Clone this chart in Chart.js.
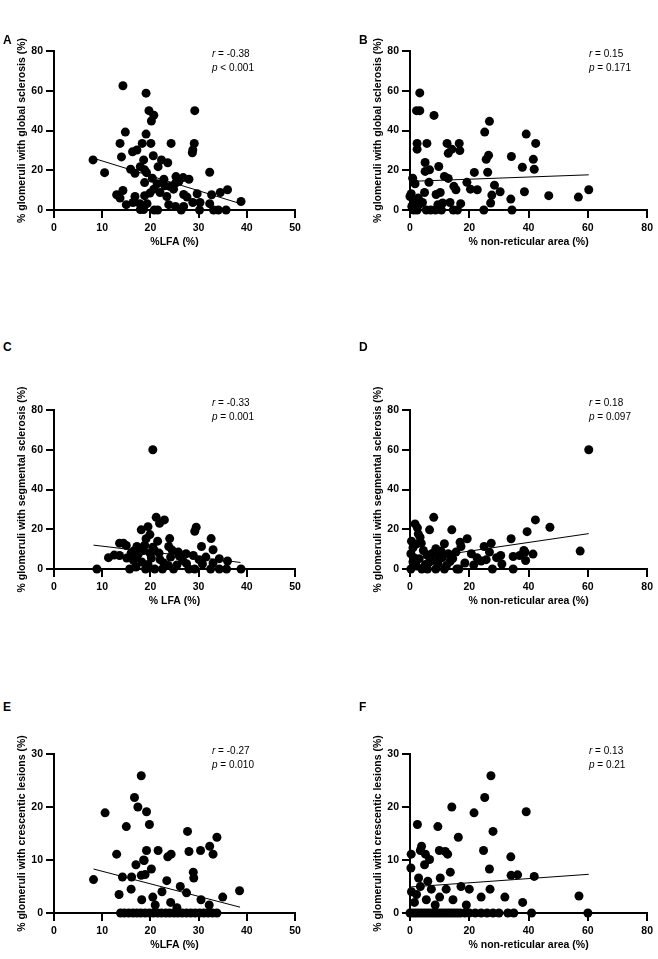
<!DOCTYPE html>
<html>
<head>
<meta charset="utf-8">
<script src="https://cdn.jsdelivr.net/npm/chart.js@4.4.1/dist/chart.umd.min.js"></script>
<style>
  body { margin: 0; background: #fff; width: 658px; height: 959px; position: relative; overflow: hidden;
         font-family: "Liberation Sans", Arial, sans-serif; color: #000; }
  canvas { position: absolute; }
  .letter { position: absolute; font-weight: bold; font-size: 12px; line-height: 14px; }
  .stat { position: absolute; font-size: 10px; line-height: 14px; white-space: nowrap; }
</style>
</head>
<body>
<script>
// tick values
const lfaTicks = [0, 10, 20, 30, 40, 50];
const nraTicks = [0, 20, 40, 60, 80];
const sclerosisTicks = [0, 20, 40, 60, 80];
const crescentTicks = [0, 10, 20, 30];

// A: %LFA vs % global sclerosis  [x, y]
const lfaGlobal = [[8.1,25.2],[10.5,18.8],[14.3,62.5],[19.1,58.8],[19.7,50],[20.7,47.7],[20.2,44.8],[29.2,50],
  [14.8,39.2],[19.1,38.2],[13.7,33.5],[18.3,33.5],[20.1,33.5],[24.3,33.5],[29.1,33.5],[28.8,30.2],[28.7,28.8],
  [16.3,29.3],[17.2,30.2],[14.0,26.7],[20.6,27.3],[18.6,25.2],[22.3,25.2],[23.6,23.8],[21.6,21.8],[15.9,20.5],
  [17.9,21.8],[18.8,20.2],[16.8,18.5],[19.2,18.8],[32.3,19],[20.4,16],[25.3,16.8],[26.8,16.3],[28.0,15.5],
  [22.8,15.5],[18.8,13.8],[21.4,13.2],[23.0,12.2],[24.1,11.8],[25.2,13.5],[25.9,14.3],[20.7,10.5],[24.8,10.5],
  [22.0,8.8],[19.9,8.5],[14.3,9.8],[13.0,7.7],[13.7,6.0],[16.8,6.8],[18.8,7.2],[23.4,6.8],[26.9,7.8],[27.6,6.5],
  [29.7,8.2],[32.7,7.7],[34.5,8.8],[36.0,10.2],[38.8,4.3],[15.0,2.7],[16.4,3.8],[17.8,3.2],[18.2,1.8],[18.6,0.2],
  [19.3,3.2],[20.8,0],[21.5,0],[23.8,2.7],[25.2,1.8],[26.4,0],[26.9,1.8],[28.8,3.8],[30.3,3.8],[30.2,0],
  [32.3,3.2],[33.1,0],[34.1,0],[35.7,0],[17.9,0.2]];
const lfaGlobalFit = [[7.7,26.4],[38.4,3.4]];

// B: % non-reticular area vs % global sclerosis
const nraGlobal = [[3.3,58.9],[2.2,50],[3.3,50],[8.1,47.6],[26.8,44.6],[25.2,39.2],[39.2,38.2],[2.4,33.5],
  [5.7,33.5],[12.5,33.5],[16.6,33.5],[42.4,33.5],[2.4,30.6],[14.1,30.6],[16.8,29.9],[12.9,28.5],[26.5,27.5],
  [25.7,25.5],[34.2,26.9],[41.6,25.5],[5.1,23.9],[9.7,21.9],[37.9,21.5],[41.9,20.5],[5.1,19.4],[6.6,20.2],
  [26.2,19],[21.7,18.9],[0.9,16],[11.6,16.9],[12.9,15.9],[1.7,13.2],[6.4,13.9],[19.2,13.9],[28.5,12.5],
  [14.8,11.9],[15.5,10.2],[20.4,10.5],[22.7,10.2],[30.4,9.2],[27.6,7.5],[38.6,9.2],[46.8,7.2],[56.8,6.5],
  [60.3,10.2],[0.4,8.2],[0,6.8],[2.8,6],[4.9,8.8],[8.8,7.8],[10.2,8.8],[1.1,3.5],[3.1,2.7],[4.2,3.8],[9.4,2.7],
  [11,3.5],[13.5,3.8],[17.1,3.2],[34,5.5],[27.2,3.5],[1.3,0],[2.4,0],[5.5,0],[7,0],[8.6,0],[10.6,0],[14.6,0],
  [16,0],[24.9,0],[34.4,0],[0.6,1.8]];
const nraGlobalFit = [[0,14.4],[60.3,17.7]];

// C: % LFA vs % segmental sclerosis
const lfaSegmental = [[8.9,0],[11.3,5.7],[14.4,13],[15,11.8],[13.6,6.8],[15.1,5.5],[15.7,0],[17.2,11.3],
  [18.1,19.7],[19.5,21.3],[19.9,17.3],[19.1,15.2],[21.2,26],[21.9,23],[22.9,24.7],[18.6,9.3],[19.9,8],[17.1,6.3],
  [16.5,4.3],[18.2,3.5],[19.5,2.3],[20.8,9.3],[21.8,8],[22,4.7],[20.9,0],[22.5,0],[23.8,11.3],[24,15.3],[24.2,6],
  [24.8,0],[25.8,8.5],[27.4,7.7],[26.7,4.3],[28,0],[28.9,6.8],[29.2,19],[29.5,21],[30.1,4.7],[30.6,11.3],
  [32.6,15.3],[33,9.7],[32.5,0],[34.3,5.2],[34.3,0],[36,4],[35.8,0],[38.8,0],[29.2,0],[27.5,2.7],[23.7,1.8],
  [20.5,60],[13.6,13],[12.5,7],[16,8],[17.5,7.5],[20.2,5.5],[18.8,12],[21.5,14],[26,6.5],[31.5,6],[19,0],
  [17,1],[22.8,3],[25.5,2],[30.8,2.5],[33,3],[24.5,9.5],[20.5,11],[16.5,9]];
const lfaSegmentalFit = [[8.2,12.0],[38.7,3.3]];

// D: % non-reticular area vs % segmental sclerosis
const nraSegmental = [[1.7,22.7],[2.5,20.7],[2.8,17.7],[3.4,16],[1,10.7],[0.3,7.7],[1,3.5],[0.3,0],[3.1,5.2],
  [4.5,9.3],[5.2,2.3],[6.6,19.7],[8,26],[8.7,10.2],[10.9,5.7],[11.6,12.7],[12.9,7.7],[14.1,19.7],[14.4,5.2],
  [16.5,0],[16.9,13.5],[17.2,11.3],[19.3,15.2],[20.7,7.7],[22.6,5.7],[25,11.3],[25.7,4.7],[27.4,13],[26.8,8.5],
  [27.8,0],[29.2,5.7],[30.6,6.8],[34.1,15.2],[34.8,0],[34.8,6.3],[37,6.8],[39,4.3],[38.4,9.3],[39.5,18.8],
  [38.8,8.5],[42.3,24.7],[47.2,21],[57.4,9],[5.9,0],[8.7,0],[11.6,0],[15.8,0],[7.3,4.3],[9.4,2.7],[12.3,1.8],
  [60.3,60],[2,12.5],[5.8,7],[7.5,7.8],[9.8,6.2],[13.5,3.8],[18.5,3],[21.5,2],[2.2,1.5],[4,0],[1.5,5.5],
  [3.8,13],[10.5,9],[15.5,8.5],[24,4],[31,2.5],[41.5,7.5],[0.5,14],[6.5,3.5]];
const nraSegmentalFit = [[0,4.6],[60.3,17.8]];

// E: %LFA vs % crescentic lesions
const lfaCrescent = [[18.1,25.9],[16.7,21.8],[17.4,20],[19.2,19.1],[10.6,18.9],[15,16.3],[19.8,16.7],[27.7,15.4],
  [33.8,14.3],[13,11.1],[19.2,11.8],[21.6,11.8],[28,11.6],[30.4,11.8],[32.3,12.6],[33,11.1],[24.3,11.1],
  [23.6,10.6],[18.6,10],[17,9.1],[18.7,9.9],[20.2,8.3],[18.1,7.1],[18.9,7.25],[14.2,6.8],[16.1,6.8],[8.2,6.3],
  [23.4,6.1],[28.9,7.7],[29,6.6],[16,4.5],[18.2,2.5],[20.5,3],[22.4,4],[24.2,2],[26.2,5],[27.5,3.8],[30.5,2.5],
  [32.2,1.5],[38.5,4.2],[13.5,3.5],[21,1.5],[25.5,1],[35,3],[13.8,0],[14.6,0],[15.5,0],[16.4,0],[17.2,0],[18,0],
  [18.9,0],[19.8,0],[20.6,0],[21.5,0],[22.3,0],[23.2,0],[24,0],[24.9,0],[25.7,0],[26.6,0],[27.5,0],[28.4,0],
  [29.3,0],[30.2,0],[31.1,0],[32,0],[32.9,0],[33.8,0]];
const lfaCrescentFit = [[8.2,8.3],[38.6,1.1]];

// F: % non-reticular area vs % crescentic lesions
const nraCrescent = [[27.3,25.9],[25.2,21.8],[14.1,20],[39.2,19.1],[21.6,18.9],[2.5,16.7],[9.4,16.3],[28,15.4],
  [16.3,14.3],[3.9,12.6],[3.5,11.8],[9.9,11.8],[11.9,11.6],[12.7,11.1],[24.8,11.8],[0.4,11.1],[5.2,11.1],
  [6.6,10.1],[34,10.6],[4.9,9.1],[13.6,7.7],[26.8,8.3],[2.9,6.6],[10.2,6.6],[34.1,7.1],[36.3,7.2],[41.9,6.9],
  [0.5,4],[1.5,2],[2.2,3.5],[3.5,5],[5.5,2.5],[7.2,4.5],[10,3],[12.2,4.5],[14.5,2.5],[17.2,5],[20,4.5],[24,3],
  [27,4.5],[32,3],[38,2],[57,3.2],[0.3,8.5],[6,6],[8.5,1.5],[19,1.5],[0,0],[1,0],[2,0],[3,0],[4,0],[5,0],[6,0],
  [7,0],[8,0],[9,0],[10,0],[11,0],[12,0],[13,0],[14,0],[15,0],[16,0],[17,0],[18.5,0],[20,0],[22,0],[24,0],
  [26,0],[28,0],[30,0],[33,0],[35,0],[41,0],[60,0]];
const nraCrescentFit = [[0,4.9],[60.3,7.3]];

const yTitleGlobal = '% glomeruli with global sclerosis (%)';
const yTitleSegmental = '% glomeruli with segmental sclerosis (%)';
const yTitleCrescent = '% glomeruli with crescentic lesions (%)';

const panels = [
  { letter: 'A', col: 0, row: 0, pts: lfaGlobal, fit: lfaGlobalFit, xt: lfaTicks, yt: sclerosisTicks,
    xTitle: '%LFA (%)', yTitle: yTitleGlobal, r: '-0.38', p: '< 0.001' },
  { letter: 'B', col: 1, row: 0, pts: nraGlobal, fit: nraGlobalFit, xt: nraTicks, yt: sclerosisTicks,
    xTitle: '% non-reticular area (%)', yTitle: yTitleGlobal, r: '0.15', p: '= 0.171' },
  { letter: 'C', col: 0, row: 1, pts: lfaSegmental, fit: lfaSegmentalFit, xt: lfaTicks, yt: sclerosisTicks,
    xTitle: '% LFA (%)', yTitle: yTitleSegmental, r: '-0.33', p: '= 0.001' },
  { letter: 'D', col: 1, row: 1, pts: nraSegmental, fit: nraSegmentalFit, xt: nraTicks, yt: sclerosisTicks,
    xTitle: '% non-reticular area (%)', yTitle: yTitleSegmental, r: '0.18', p: '= 0.097' },
  { letter: 'E', col: 0, row: 2, pts: lfaCrescent, fit: lfaCrescentFit, xt: lfaTicks, yt: crescentTicks,
    xTitle: '%LFA (%)', yTitle: yTitleCrescent, r: '-0.27', p: '= 0.010' },
  { letter: 'F', col: 1, row: 2, pts: nraCrescent, fit: nraCrescentFit, xt: nraTicks, yt: crescentTicks,
    xTitle: '% non-reticular area (%)', yTitle: yTitleCrescent, r: '0.13', p: '= 0.21' },
];

// layout
const colLeft = [0, 356];
const plotTop = [51, 410, 754];
const letterTop = [33, 340, 700];
const statTop = [47, 396, 744];
const plotW = 241, plotH = 159, yAxisW = 54, xAxisH = 42, padTop = 36;

const fontTick = { family: 'Liberation Sans', weight: 'bold', size: 10.5 };

function axis(ticks, title, isY) {
  return {
    type: 'linear',
    min: ticks[0],
    max: ticks[ticks.length - 1],
    afterBuildTicks: s => { s.ticks = ticks.map(v => ({ value: v })); },
    ticks: { color: '#000', font: fontTick, padding: isY ? 3 : 4, maxRotation: 0, autoSkip: false },
    grid: { drawOnChartArea: false, drawTicks: true, tickLength: 8, color: '#000', lineWidth: 2 },
    border: { color: '#000', width: 2 },
    title: { display: true, text: title, color: '#000', font: fontTick,
             padding: isY ? { top: 15.5, bottom: 0 } : { top: 0, bottom: 3.7 } },
    afterFit: s => { if (isY) s.width = yAxisW; else s.height = xAxisH; }
  };
}

panels.forEach(p => {
  const left = colLeft[p.col];
  const top = plotTop[p.row] - padTop;
  const padR = p.col === 0 ? 12 : 6;
  const cv = document.createElement('canvas');
  cv.width = yAxisW + plotW + padR;
  cv.height = padTop + plotH + xAxisH;
  cv.style.left = left + 'px';
  cv.style.top = top + 'px';
  document.body.appendChild(cv);

  new Chart(cv, {
    type: 'scatter',
    data: {
      datasets: [
        { data: p.pts.map(([x, y]) => ({ x, y })), backgroundColor: '#000', borderWidth: 0,
          pointRadius: 4.5, pointHoverRadius: 4.5, clip: false },
        { type: 'line', data: p.fit.map(([x, y]) => ({ x, y })), borderColor: '#000', borderWidth: 1,
          pointRadius: 0, fill: false, clip: false }
      ]
    },
    options: {
      responsive: false,
      animation: false,
      layout: { padding: { top: padTop, right: padR, left: 0, bottom: 0 } },
      plugins: { legend: { display: false }, tooltip: { enabled: false } },
      scales: { x: axis(p.xt, p.xTitle, false), y: axis(p.yt, p.yTitle, true) }
    }
  });

  const lt = document.createElement('div');
  lt.className = 'letter';
  lt.textContent = p.letter;
  lt.style.left = (left + 3) + 'px';
  lt.style.top = letterTop[p.row] + 'px';
  document.body.appendChild(lt);

  const st = document.createElement('div');
  st.className = 'stat';
  st.innerHTML = '<i>r</i> = ' + p.r + '<br><i>p</i> ' + p.p;
  st.style.left = (left + (p.col === 0 ? 212 : 233)) + 'px';
  st.style.top = statTop[p.row] + 'px';
  document.body.appendChild(st);
});
</script>
</body>
</html>
